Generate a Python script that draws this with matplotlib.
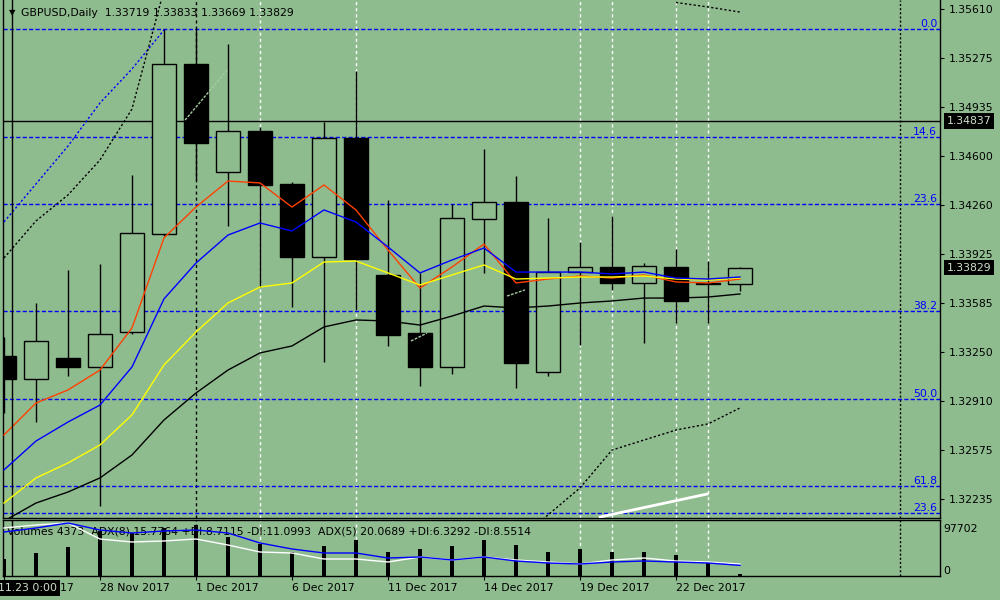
import numpy as np
import matplotlib
matplotlib.use('Agg')
import matplotlib.pyplot as plt
import matplotlib.transforms as mtransforms
from matplotlib.patches import Rectangle

BG = '#8FBC8F'
BOX_TEXT = '#cfe0ca'
plt.rcParams['font.family'] = ['DejaVu Sans']
plt.rcParams['font.size'] = 7.8

# daily bars, 23 Nov .. 26 Dec 2017
dates = ['23 Nov 2017', '24 Nov 2017', '27 Nov 2017', '28 Nov 2017', '29 Nov 2017', '30 Nov 2017',
         '1 Dec 2017', '4 Dec 2017', '5 Dec 2017', '6 Dec 2017', '7 Dec 2017', '8 Dec 2017',
         '11 Dec 2017', '12 Dec 2017', '13 Dec 2017', '14 Dec 2017', '15 Dec 2017', '18 Dec 2017',
         '19 Dec 2017', '20 Dec 2017', '21 Dec 2017', '22 Dec 2017', '25 Dec 2017', '26 Dec 2017']
label_bars = [0, 3, 6, 9, 12, 15, 18, 21]

opens = [1.33220, 1.33061, 1.33206, 1.33144, 1.33385, 1.34060, 1.35231, 1.34487, 1.34770, 1.34405,
         1.33902, 1.34722, 1.33778, 1.33378, 1.33144, 1.34163, 1.34281, 1.33110, 1.33798, 1.33833,
         1.33723, 1.33833, 1.33723, 1.33719]
highs = [1.33351, 1.33585, 1.33812, 1.33854, 1.34467, 1.35472, 1.35479, 1.35369, 1.34797, 1.34418,
         1.34832, 1.35183, 1.34294, 1.33791, 1.34267, 1.34646, 1.34460, 1.34170, 1.34005, 1.34184,
         1.33860, 1.33957, 1.33874, 1.33833]
lows = [1.32827, 1.32765, 1.33082, 1.32187, 1.33371, 1.34046, 1.34432, 1.34115, 1.33695, 1.33557,
        1.33179, 1.33537, 1.33289, 1.33013, 1.33096, 1.33791, 1.32999, 1.33082, 1.33296, 1.33675,
        1.33309, 1.33447, 1.33447, 1.33669]
closes = [1.33061, 1.33323, 1.33144, 1.33371, 1.34067, 1.35231, 1.34687, 1.34770, 1.34398, 1.33902,
          1.34722, 1.33888, 1.33365, 1.33144, 1.34170, 1.34281, 1.33172, 1.33798, 1.33833, 1.33723,
          1.33840, 1.33599, 1.33719, 1.33829]
volumes = [35400, 47800, 60300, 93600, 89400, 99800, 106100, 81100, 66600, 49900, 62400, 74900,
           49900, 56200, 62400, 74900, 64500, 49900, 56200, 49900, 49900, 43700, 27000, 4373]

ma_red = [1.32676, 1.32896, 1.32986, 1.33123, 1.33413, 1.34033, 1.34246, 1.34425, 1.34412, 1.34246,
          1.34398, 1.34226, 1.33950, 1.33688, 1.33833, 1.33991, 1.33723, 1.33750, 1.33771, 1.33757,
          1.33778, 1.33730, 1.33723, 1.33750]
ma_blue = [1.32435, 1.32634, 1.32765, 1.32882, 1.33144, 1.33613, 1.33860, 1.34053, 1.34136, 1.34081,
           1.34226, 1.34143, 1.33971, 1.33792, 1.33881, 1.33964, 1.33798, 1.33798, 1.33798, 1.33785,
           1.33798, 1.33757, 1.33750, 1.33764]
ma_yellow = [1.32207, 1.32380, 1.32483, 1.32607, 1.32814, 1.33158, 1.33385, 1.33585, 1.33695, 1.33723,
             1.33867, 1.33874, 1.33792, 1.33709, 1.33778, 1.33847, 1.33750, 1.33757, 1.33764, 1.33764,
             1.33771, 1.33750, 1.33743, 1.33757]
ma_black = [1.32083, 1.32207, 1.32283, 1.32380, 1.32538, 1.32779, 1.32965, 1.33123, 1.33241, 1.33289,
            1.33420, 1.33468, 1.33461, 1.33433, 1.33495, 1.33564, 1.33551, 1.33564, 1.33585, 1.33599,
            1.33619, 1.33619, 1.33626, 1.33647]

nan = np.nan
band_blue_up = [1.34143, 1.34405, 1.34666, 1.34963, 1.35197, 1.35465] + [nan] * 18
band_black_up = ([1.33895, 1.34150, 1.34329, 1.34570, 1.34921, 1.35741] + [nan] * 15
                 + [1.35655, 1.35624, 1.35589])
band_black_dn = [nan] * 16 + [1.31932, 1.32125, 1.32311, 1.32572, 1.32641, 1.32710, 1.32752, 1.32862]

# faint trail pieces seen only over dark candles, and the white segment at bottom right
pale_trail = [(5.66, 1.34845, 7.0, 1.35197), (12.72, 1.33323, 13.22, 1.33378), (15.72, 1.33633, 16.28, 1.33675)]
white_trail = (18.63, 1.32111, 21.97, 1.32269)

adx_blue = [70.4, 76.8, 84.8, 73.6, 68.8, 72.0, 73.6, 68.8, 52.8, 43.2, 36.8, 36.8, 28.8, 30.4, 25.6,
            30.4, 24.0, 20.8, 19.2, 22.4, 24.0, 22.4, 20.8, 17.0]
adx_white = [76.8, 81.6, 84.8, 59.2, 54.4, 56.0, 59.2, 49.6, 38.4, 36.8, 27.2, 27.2, 22.4, 30.4, 25.6,
             30.4, 25.6, 22.4, 19.2, 25.6, 28.8, 24.0, 22.4, 19.2]

fib_levels = [1.35472, 1.34728, 1.34267, 1.33530, 1.32924, 1.32324, 1.32138]
fib_labels = ['0.0', '14.6', '23.6', '38.2', '50.0', '61.8', '23.6']
hline_price = 1.34837
price_ticks = [1.35610, 1.35275, 1.34935, 1.34600, 1.34260, 1.33925, 1.33585, 1.33250, 1.32910,
               1.32575, 1.32235]
vol_ticks = [97702, 0]

vgrid_white = [8, 11, 18, 19, 21, 22]
vgrid_black = [6]
vgrid_dotted = [28]
vline_bar = 0.25
vline_label = '2017.11.23 0:00'

x = np.arange(len(opens))

fig = plt.figure(figsize=(10, 6), dpi=100, facecolor=BG)
ax = fig.add_axes([0.003, 1 - 518 / 600, 0.937, 518 / 600], facecolor=BG)
axv = fig.add_axes([0.003, 0.04, 0.937, 56 / 600], facecolor=BG, sharex=ax)
axa = fig.add_axes([0.003, 0.04, 0.937, 56 / 600], sharex=ax)
axa.patch.set_visible(False)
axa.axis('off')

for a in (ax, axv):
    for b in vgrid_white:
        a.axvline(b, color='white', lw=1, ls=(0, (2.2, 2.2)), zorder=1)
    for b in vgrid_black:
        a.axvline(b, color='black', lw=1, ls=(0, (2.2, 2.2)), zorder=1)
    for b in vgrid_dotted:
        a.axvline(b, color='black', lw=1, ls=(0, (1.5, 1.5)), zorder=1)
    a.axvline(vline_bar, color='black', lw=1, zorder=6)
    for s in a.spines.values():
        s.set_color('black')
        s.set_linewidth(1)
ax.spines['top'].set_visible(False)

# fibonacci levels
blend = mtransforms.blended_transform_factory(ax.transAxes, ax.transData)
for lev, lab in zip(fib_levels, fib_labels):
    ax.axhline(lev, color='#0000FF', lw=1, ls=(0, (3, 1.6)), zorder=2)
    ax.annotate(lab, xy=(0.997, lev), xycoords=blend, xytext=(0, 1.2), textcoords='offset points',
                ha='right', va='baseline', color='#0000FF', zorder=2)
ax.axhline(hline_price, color='black', lw=1, zorder=2)

# candles
for i in x:
    o, h, l, c = opens[i], highs[i], lows[i], closes[i]
    ax.vlines(i, l, h, color='black', lw=1, zorder=3)
    face = BG if c > o else 'black'
    ax.add_patch(Rectangle((i - 0.38, min(o, c)), 0.76, max(abs(c - o), 1e-6), facecolor=face,
                           edgecolor='black', lw=1, zorder=4))

# bands and moving averages
ax.plot(x, band_blue_up, color='#0000FF', lw=1, ls=(0, (1.6, 1.6)), zorder=5)
ax.plot(x, band_black_up, color='black', lw=1, ls=(0, (1.6, 1.6)), zorder=5)
ax.plot(x, band_black_dn, color='black', lw=1, ls=(0, (1.6, 1.6)), zorder=5)
for x0, y0, x1, y1 in pale_trail:
    ax.plot([x0, x1], [y0, y1], color='#a6cba2', lw=1, ls=(0, (2, 1)), zorder=5)
ax.plot([white_trail[0], white_trail[2]], [white_trail[1], white_trail[3]], color='white', lw=2, zorder=5)
ax.plot(x, ma_black, color='black', lw=1, zorder=5)
ax.plot(x, ma_red, color='#FF4000', lw=1, zorder=5)
ax.plot(x, ma_yellow, color='#FFFF00', lw=1, zorder=6)
ax.plot(x, ma_blue, color='#0000FF', lw=1, zorder=7)

ax.set_xlim(-0.03, 29.25)
ax.set_ylim(1.32104, 1.35672)
ax.yaxis.tick_right()
ax.set_yticks(price_ticks)
ax.set_yticklabels([f'{p:.5f}' for p in price_ticks])
ax.tick_params(axis='y', direction='out', length=3, pad=3, labelsize=7.8, colors='black')
ax.tick_params(axis='x', bottom=False, labelbottom=False)

for price in (hline_price, closes[-1]):
    ax.text(1.0075, price, f'{price:.5f}', transform=blend, ha='left', va='center', color=BOX_TEXT,
            bbox=dict(facecolor='black', edgecolor='none', pad=2), clip_on=False, zorder=10)

fig.text(0.012, 1 - 13 / 600, '\u25bc', fontsize=6, ha='center', va='center')
fig.text(0.021, 1 - 13 / 600,
         f'GBPUSD,Daily  {opens[-1]:.5f} {highs[-1]:.5f} {lows[-1]:.5f} {closes[-1]:.5f}',
         ha='left', va='center')

# volume panel
axv.bar(x, volumes, width=0.1, color='black', zorder=3)
axv.set_ylim(0, 116480)
axv.tick_params(axis='y', left=False, right=False, labelleft=False)
vblend = mtransforms.blended_transform_factory(axv.transAxes, axv.transData)
axv.text(1.004, vol_ticks[0], str(vol_ticks[0]), transform=vblend, ha='left', va='center')
axv.text(1.004, vol_ticks[1], str(vol_ticks[1]), transform=vblend, ha='left', va='bottom')
axv.text(0.004, 0.786,
         'Volumes 4373  ADX(8) 15.7764 +DI:8.7115 -DI:11.0993  ADX(5) 20.0689 +DI:6.3292 -DI:8.5514',
         transform=axv.transAxes, ha='left', va='center', zorder=2)

axa.plot(x, adx_white, color='white', lw=1, zorder=5)
axa.plot(x, adx_blue, color='#0000FF', lw=1, zorder=6)
axa.set_ylim(0, 89.6)

axv.set_xticks(label_bars)
axv.set_xticklabels([dates[i] for i in label_bars])
axv.tick_params(axis='x', direction='out', length=3, pad=2, labelsize=7.8)
for t in axv.get_xticklabels():
    t.set_ha('left')

tblend = mtransforms.blended_transform_factory(axv.transData, axv.transAxes)
axv.text(vline_bar, -0.214, vline_label, transform=tblend, ha='center', va='center', color=BOX_TEXT,
         bbox=dict(facecolor='black', edgecolor='none', pad=2), clip_on=False, zorder=10)

fig.savefig('out.png', dpi=100, facecolor=BG)
